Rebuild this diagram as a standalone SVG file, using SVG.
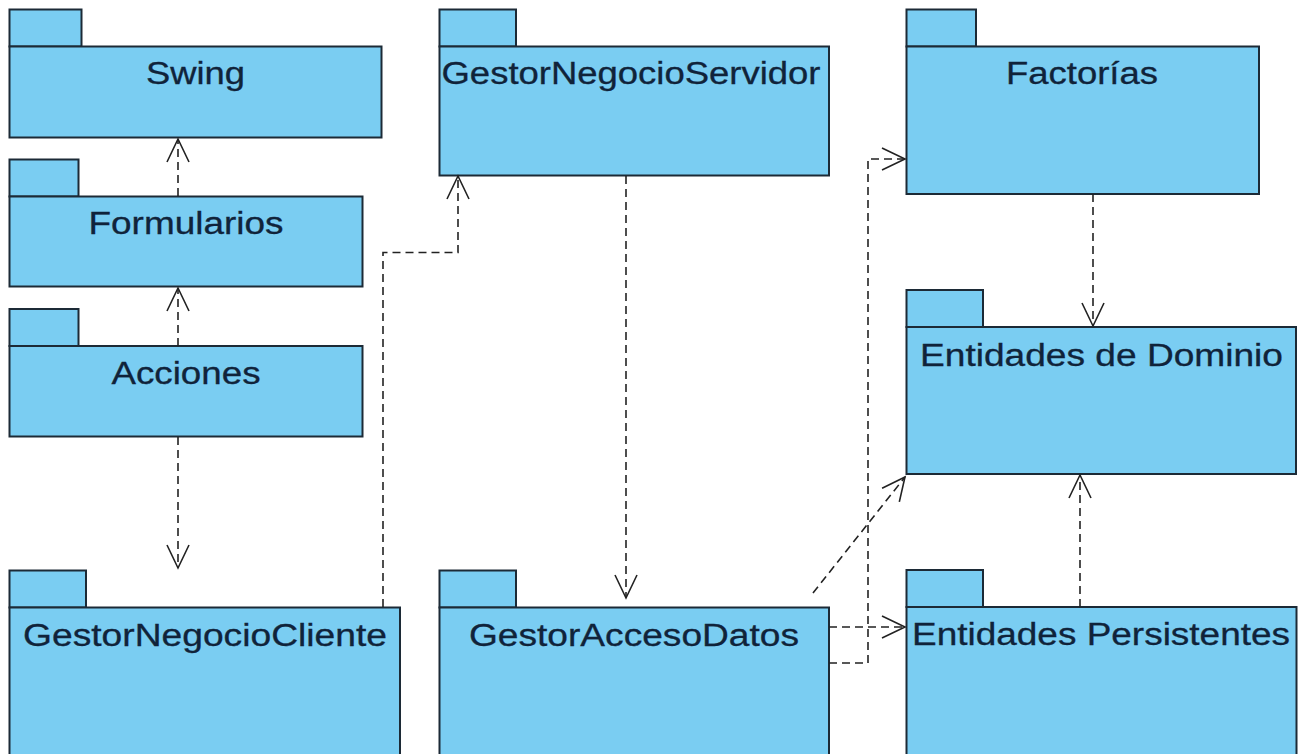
<svg xmlns="http://www.w3.org/2000/svg" width="1298" height="754" viewBox="0 0 1298 754">
  <style>
    .pkg rect { fill: #7acdf2; stroke: #1c2a36; stroke-width: 2; }
    .pkg text { font-family: "Liberation Sans", Arial, sans-serif; font-size: 31px; fill: #10233a; stroke: #10233a; stroke-width: 0.3; text-anchor: middle; }
    .dep { fill: none; stroke: #222; stroke-width: 1.6; stroke-dasharray: 8 5; }
  </style>
  <defs>
    <marker id="open" markerUnits="userSpaceOnUse" markerWidth="30" markerHeight="30" refX="0" refY="0" viewBox="-26 -14 30 28" orient="auto" overflow="visible">
      <path d="M-23,-11 L0,0 L-23,11" fill="none" stroke="#222" stroke-width="1.6"/>
    </marker>
  </defs>

  <rect width="1298" height="754" fill="#ffffff"/>

  <g id="Swing" class="pkg">
    <rect x="9.5" y="9.5" width="72" height="37"/>
    <rect x="9.5" y="46.5" width="372" height="91"/>
    <text x="195.5" y="84" textLength="99" lengthAdjust="spacingAndGlyphs">Swing</text>
  </g>

  <g id="Formularios" class="pkg">
    <rect x="9.5" y="159.5" width="69" height="37"/>
    <rect x="9.5" y="196.5" width="353" height="90"/>
    <text x="186" y="234" textLength="195" lengthAdjust="spacingAndGlyphs">Formularios</text>
  </g>

  <g id="Acciones" class="pkg">
    <rect x="9.5" y="309" width="69" height="37"/>
    <rect x="9.5" y="346" width="353" height="90.5"/>
    <text x="186" y="384" textLength="149" lengthAdjust="spacingAndGlyphs">Acciones</text>
  </g>

  <g id="GestorNegocioCliente" class="pkg">
    <rect x="9.5" y="570.5" width="76.5" height="37"/>
    <rect x="9.5" y="607.5" width="390.5" height="160"/>
    <text x="205" y="646" textLength="364" lengthAdjust="spacingAndGlyphs">GestorNegocioCliente</text>
  </g>

  <g id="GestorNegocioServidor" class="pkg">
    <rect x="439.5" y="9.5" width="76.5" height="37"/>
    <rect x="439.5" y="46.5" width="389.5" height="129"/>
    <text x="631" y="84" textLength="379" lengthAdjust="spacingAndGlyphs">GestorNegocioServidor</text>
  </g>

  <g id="GestorAccesoDatos" class="pkg">
    <rect x="439.5" y="570.5" width="76.5" height="37"/>
    <rect x="439.5" y="607.5" width="389.5" height="160"/>
    <text x="634" y="646" textLength="330" lengthAdjust="spacingAndGlyphs">GestorAccesoDatos</text>
  </g>

  <g id="Factorias" class="pkg">
    <rect x="906.5" y="9.5" width="69.5" height="37"/>
    <rect x="906.5" y="46.5" width="352.5" height="147.5"/>
    <text x="1082" y="84" textLength="152" lengthAdjust="spacingAndGlyphs">Factorías</text>
  </g>

  <g id="EntidadesDominio" class="pkg">
    <rect x="906.5" y="290" width="76.5" height="37"/>
    <rect x="906.5" y="327" width="389.5" height="147"/>
    <text x="1101.5" y="366" textLength="363" lengthAdjust="spacingAndGlyphs">Entidades de Dominio</text>
  </g>

  <g id="EntidadesPersistentes" class="pkg">
    <rect x="906.5" y="570" width="76.5" height="37"/>
    <rect x="906.5" y="607" width="390" height="160"/>
    <text x="1101" y="645" textLength="378" lengthAdjust="spacingAndGlyphs">Entidades Persistentes</text>
  </g>

  <g id="connectors">
    <!-- Formularios -> Swing -->
    <path class="dep" d="M178,196 L178,139" marker-end="url(#open)"/>
    <!-- Acciones -> Formularios -->
    <path class="dep" d="M178,346 L178,288" marker-end="url(#open)"/>
    <!-- Acciones -> GestorNegocioCliente -->
    <path class="dep" d="M178,437 L178,568" marker-end="url(#open)"/>
    <!-- GestorNegocioCliente -> GestorNegocioServidor -->
    <path class="dep" d="M383,607 L383,252.5 L458,252.5 L458,176" marker-end="url(#open)"/>
    <!-- GestorNegocioServidor -> GestorAccesoDatos -->
    <path class="dep" d="M626,176 L626,598" marker-end="url(#open)"/>
    <!-- Factorias -> Entidades de Dominio -->
    <path class="dep" d="M1093,194 L1093,326" marker-end="url(#open)"/>
    <!-- Entidades Persistentes -> Entidades de Dominio -->
    <path class="dep" d="M1080,607 L1080,475" marker-end="url(#open)"/>
    <!-- GestorAccesoDatos -> Entidades de Dominio -->
    <path class="dep" d="M813,593 L905,477" marker-end="url(#open)"/>
    <!-- GestorAccesoDatos -> Entidades Persistentes -->
    <path class="dep" d="M829,627 L905,627" marker-end="url(#open)"/>
    <!-- GestorAccesoDatos -> Factorias -->
    <path class="dep" d="M829,663 L868,663 L868,159 L905,159" marker-end="url(#open)"/>
  </g>
</svg>
